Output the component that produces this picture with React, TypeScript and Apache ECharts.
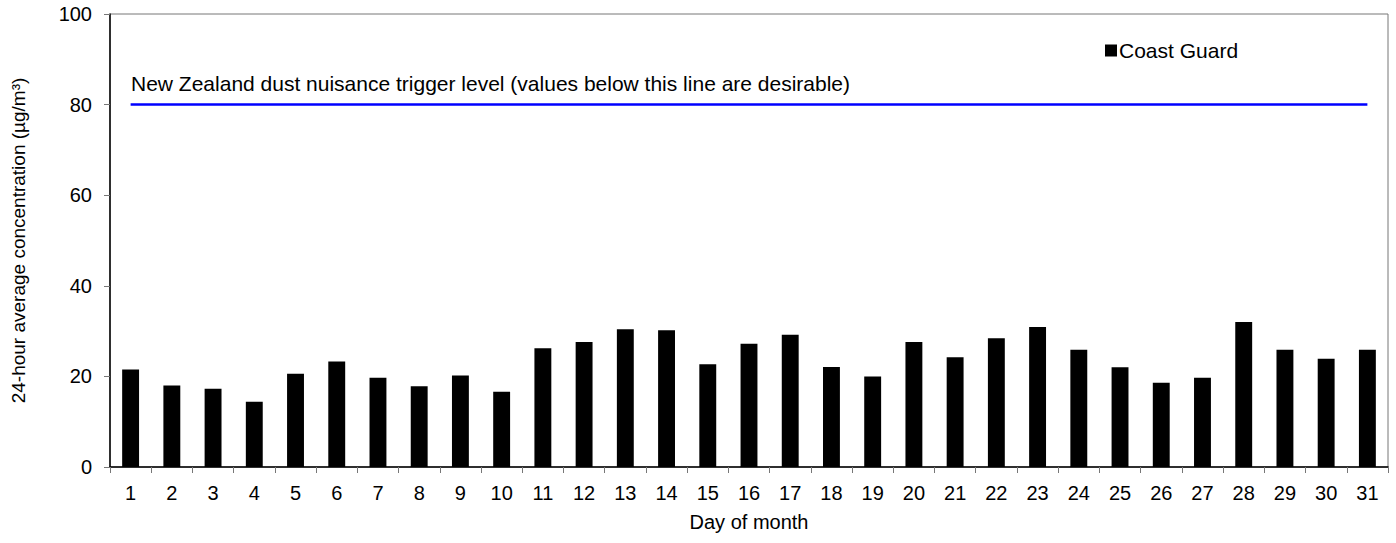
import React, { useEffect, useRef } from "react";
import * as echarts from "echarts";

const days = Array.from({ length: 31 }, (_, i) => String(i + 1));
const coastGuard = [
  21.5, 18.0, 17.3, 14.4, 20.6, 23.3, 19.7, 17.8, 20.2, 16.6,
  26.2, 27.6, 30.4, 30.2, 22.7, 27.2, 29.2, 22.1, 20.0, 27.6,
  24.2, 28.4, 30.9, 25.9, 22.0, 18.6, 19.7, 32.0, 25.9, 23.9, 25.9,
];
const triggerLevel = 80;
const triggerLabel =
  "New Zealand dust nuisance trigger level (values below this line are desirable)";
const yTicks = [0, 20, 40, 60, 80, 100];

export default function App() {
  const ref = useRef<HTMLDivElement>(null);
  useEffect(() => {
    if (!ref.current) return;
    const chart = echarts.init(ref.current, undefined, { renderer: "svg" });
    const font = "'Liberation Sans', Arial, sans-serif";
    chart.setOption({
      animation: false,
      textStyle: { fontFamily: font },
      grid: {
        left: 110,
        right: 8,
        top: 14,
        bottom: 76,
        show: true,
        borderColor: "#777",
        borderWidth: 1,
      },
      legend: {
        data: [{ name: "Coast Guard", icon: "rect" }],
        left: 1100,
        top: 35,
        itemWidth: 12,
        itemHeight: 12,
        itemGap: 4,
        textStyle: { fontSize: 21, color: "#000", fontFamily: font, padding: [0, 0, 0, -3] },
      },
      graphic: [
        {
          type: "text",
          left: 131,
          top: 73,
          style: {
            text: triggerLabel,
            fontSize: 21,
            fontFamily: font,
            fill: "#000",
          },
        },
      ],
      xAxis: {
        type: "category",
        data: days,
        name: "Day of month",
        nameLocation: "middle",
        nameGap: 45,
        nameTextStyle: { fontSize: 20, color: "#000", fontFamily: font },
        axisLine: { lineStyle: { color: "#000", width: 1.5 } },
        axisTick: { show: true, length: 6, lineStyle: { color: "#777" } },
        axisLabel: { fontSize: 20, color: "#000", margin: 16, fontFamily: font },
      },
      yAxis: {
        type: "value",
        min: yTicks[0],
        max: yTicks[yTicks.length - 1],
        interval: 20,
        name: "24-hour average concentration (µg/m³)",
        nameLocation: "middle",
        nameGap: 82,
        nameTextStyle: { fontSize: 19, color: "#000", fontFamily: font },
        axisLine: { show: true, lineStyle: { color: "#000", width: 1.5 } },
        axisTick: { show: true, length: 6, lineStyle: { color: "#777" } },
        axisLabel: { fontSize: 20, color: "#000", margin: 18, fontFamily: font },
        splitLine: { show: false },
      },
      series: [
        {
          name: "Coast Guard",
          type: "bar",
          data: coastGuard,
          barWidth: "41%",
          itemStyle: { color: "#000" },
        },
        {
          name: "Trigger",
          type: "line",
          data: days.map(() => triggerLevel),
          symbol: "none",
          lineStyle: { color: "#0000ff", width: 2.5 },
          silent: true,
        },
      ],
    });
    return () => chart.dispose();
  }, []);
  return (
    <div
      ref={ref}
      style={{ position: "absolute", left: 0, top: 0, width: 1396, height: 543 }}
    />
  );
}
